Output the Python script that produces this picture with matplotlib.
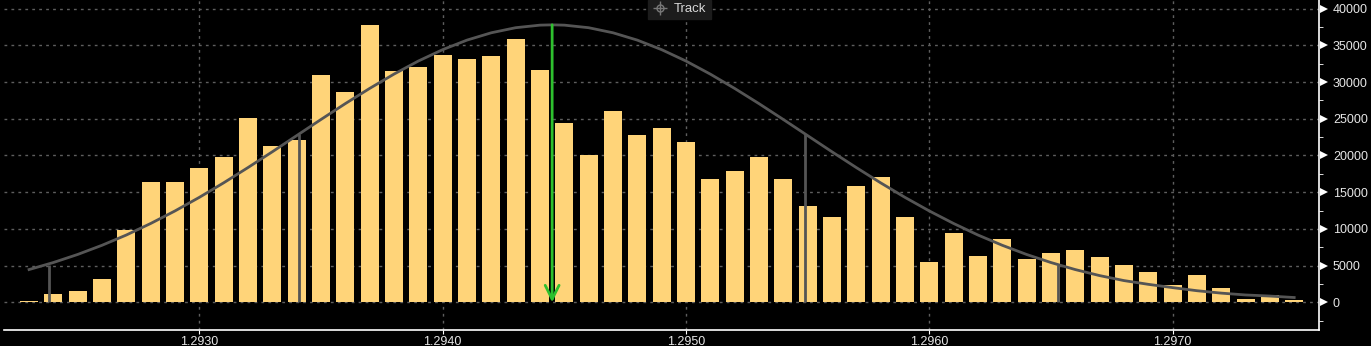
import matplotlib
matplotlib.use("Agg")
import matplotlib.pyplot as plt
from matplotlib.transforms import offset_copy
import numpy as np

# price buckets (bar centres) and volume per bucket
prices = np.round(np.arange(1.2923, 1.29755, 0.0001), 4)
volumes = [200, 1100, 1500, 3200, 9800, 16400, 16400, 18300, 19800, 25100,
           21300, 22100, 30900, 28600, 37800, 31500, 32000, 33700, 33100, 33500,
           35900, 31600, 24400, 20000, 26100, 22800, 23700, 21800, 16800, 17900,
           19800, 16800, 13100, 11600, 15800, 17100, 11600, 5500, 9400, 6300,
           8600, 5900, 6700, 7100, 6200, 5100, 4100, 2400, 3700, 1950,
           450, 1000, 300]

# fitted distribution line
curve_x = [1.2923, 1.2924, 1.2925, 1.2926, 1.2927, 1.2928, 1.2929, 1.2930, 1.2931,
           1.2932, 1.2933, 1.2934, 1.2935, 1.2936, 1.2937, 1.2938, 1.2939, 1.2940,
           1.2941, 1.2942, 1.2943, 1.2944, 1.29445, 1.2945, 1.2946, 1.2947, 1.2948,
           1.2949, 1.2950, 1.2951, 1.2952, 1.2953, 1.2954, 1.2955, 1.2956, 1.2957,
           1.2958, 1.2959, 1.2960, 1.2961, 1.2962, 1.2963, 1.2964, 1.2965, 1.2966,
           1.2967, 1.2968, 1.2969, 1.2970, 1.2971, 1.2972, 1.2973, 1.2974, 1.2975]
curve_y = [4460, 5420, 6520, 7770, 9170, 10740, 12450, 14300, 16280,
           18360, 20510, 22710, 24910, 27070, 29140, 31090, 32870, 34420,
           35720, 36720, 37410, 37760, 37800, 37760, 37410, 36720, 35720,
           34420, 32870, 31090, 29140, 27070, 24910, 22710, 20510, 18360,
           16280, 14300, 12450, 10740, 9170, 7770, 6520, 5420, 4460,
           3640, 2960, 2450, 2000, 1580, 1250, 1000, 850, 650]

# sigma markers (x, height) and the mode arrow
sigma_x = [1.29238, 1.29341, 1.29549, 1.29653]
sigma_y = [5080, 22900, 22900, 5080]
peak_x, peak_y = 1.29445, 37800

xticks = [1.2930, 1.2940, 1.2950, 1.2960, 1.2970]
yticks = [0, 5000, 10000, 15000, 20000, 25000, 30000, 35000, 40000]

plt.rcParams['font.family'] = ['Liberation Sans', 'DejaVu Sans']
fig = plt.figure(figsize=(13.71, 3.46), dpi=100, facecolor='black')
ax = fig.add_axes([4 / 1371, 16 / 346, 1315 / 1371, 330 / 346], facecolor='black')

ax.bar(prices, volumes, width=0.000074, color='#FFD479', zorder=2)
ax.plot(curve_x, curve_y, color='#555555', lw=2, zorder=3)
ax.vlines(sigma_x, 0, sigma_y, color='#555555', lw=2, zorder=3)
ax.annotate('', xy=(peak_x, 0), xytext=(peak_x, peak_y),
            arrowprops=dict(arrowstyle='->,head_length=1.0,head_width=0.5',
                            color='#2EC02E', lw=2, shrinkA=0, shrinkB=0), zorder=4)

ax.set_xlim(1.292197, 1.297602)
ax.set_ylim(-3774, 41185)
ax.set_xticks(xticks)
ax.set_xticklabels([f'{t:.4f}' for t in xticks])
ax.set_yticks(yticks)
ax.set_yticklabels([str(t) for t in yticks])
ax.set_yticks(np.arange(-2500, 41000, 2500), minor=True)
ax.yaxis.tick_right()

ax.grid(True, color='#5e5e5e', linestyle=(0, (2, 3)), lw=1, zorder=0)
ax.set_axisbelow(True)

for s in ['top', 'left']:
    ax.spines[s].set_visible(False)
for s in ['bottom', 'right']:
    ax.spines[s].set_color('white')
    ax.spines[s].set_linewidth(1.2)

ax.tick_params(axis='x', colors='white', labelcolor='#e6e6e6', length=3,
               labelsize=9, pad=1)
ax.tick_params(axis='y', which='major', length=0, labelcolor='#e6e6e6',
               labelsize=9, pad=10)
ax.tick_params(axis='y', which='minor', colors='white', length=3)

# triangular major tick markers just right of the axis
tri_tr = offset_copy(ax.get_yaxis_transform(), fig=fig, x=3.5, y=0, units='points')
ax.plot([1] * len(yticks), yticks, marker='>', markersize=5.5, color='white',
        markeredgewidth=0, linestyle='none', transform=tri_tr, clip_on=False)

# "Track" label box at the top
box = plt.Rectangle((648 / 1371, 327 / 346), 63 / 1371, 19 / 346,
                    transform=fig.transFigure, color='#1c1c1c', zorder=5)
fig.patches.append(box)
fig.text(674 / 1371, 337 / 346, 'Track', color='#d8d8d8', fontsize=9.5,
         ha='left', va='center', zorder=6)
# crosshair icon
fig.lines.append(plt.Line2D([660 / 1371], [338 / 346], marker='o', markersize=5,
                            mfc='none', mec='#777777', mew=1,
                            transform=fig.transFigure, zorder=6))
fig.lines.append(plt.Line2D([660 / 1371], [338 / 346], marker='+', markersize=10,
                            mec='#777777', mew=1,
                            transform=fig.transFigure, zorder=6))

fig.savefig('out.png', dpi=100, facecolor='black')
